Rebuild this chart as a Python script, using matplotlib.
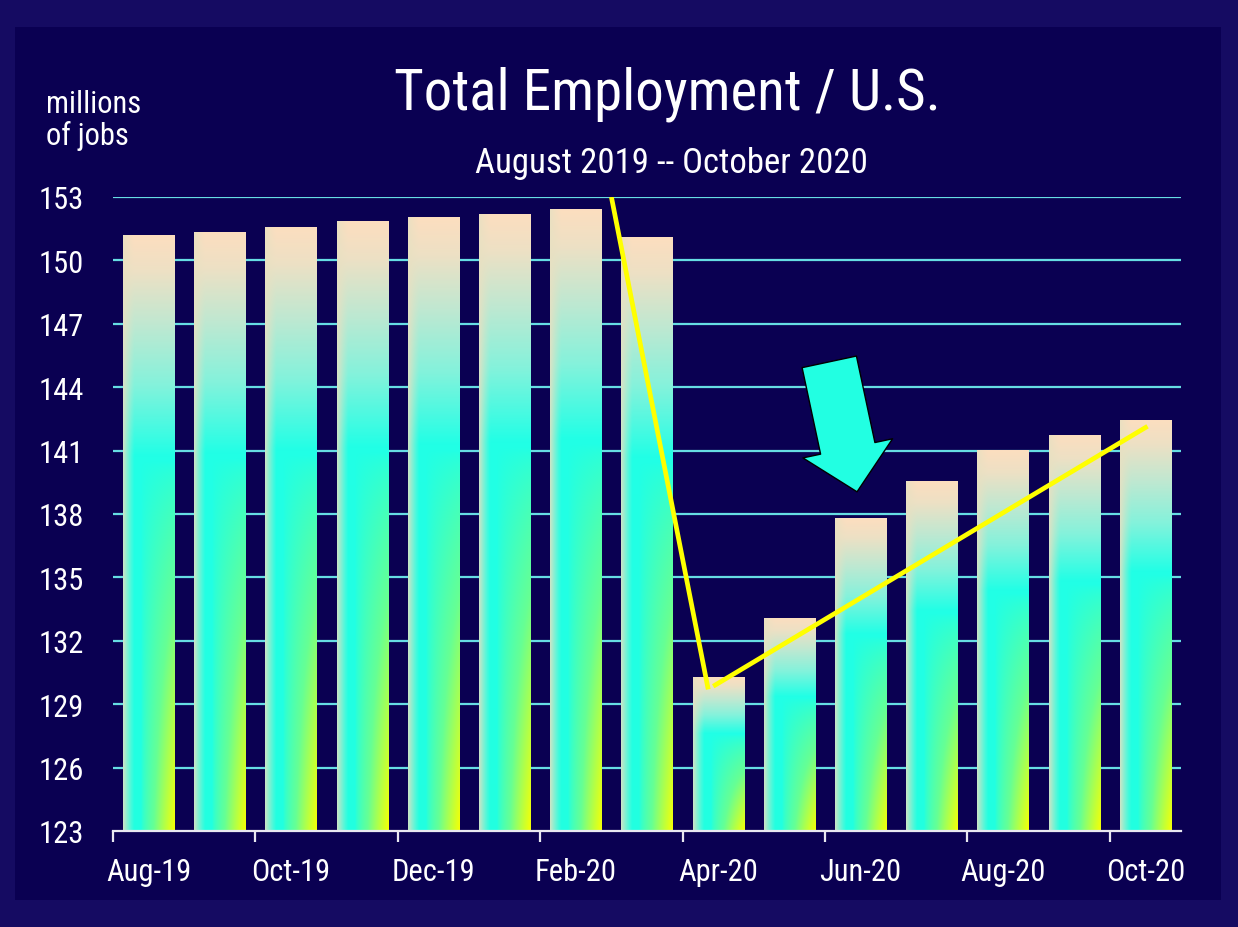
import numpy as np
import matplotlib
matplotlib.use("Agg")
import matplotlib.pyplot as plt
from matplotlib.patches import Rectangle

# ---------------- data ----------------
months = ["Aug-19", "Sep-19", "Oct-19", "Nov-19", "Dec-19", "Jan-20", "Feb-20",
          "Mar-20", "Apr-20", "May-20", "Jun-20", "Jul-20", "Aug-20", "Sep-20", "Oct-20"]
employment = [151.2, 151.35, 151.6, 151.85, 152.05, 152.2, 152.45,
              151.1, 130.3, 133.1, 137.8, 139.55, 141.05, 141.75, 142.45]
y_ticks = [123, 126, 129, 132, 135, 138, 141, 144, 147, 150, 153]
label_every = 2

# trend annotation lines (yellow)
crash_x = [6.5, 7.86]
crash_y = [153.0, 129.7]
recovery_x = [7.93, 14.03]
recovery_y = [129.85, 142.15]

# ---------------- style ----------------
OUTER = "#150b62"
INNER = "#0a0052"
GRID = "#66dde3"
WHITE = "#ffffff"
FONT = ["Roboto Condensed", "Archivo Narrow", "Liberation Sans", "DejaVu Sans"]
plt.rcParams["font.family"] = FONT

W, H = 1238, 928
fig = plt.figure(figsize=(W / 100, H / 100), dpi=100, facecolor=OUTER)
fig.patches.append(Rectangle((15 / W, 1 - 901 / H), (1221 - 15) / W, (901 - 28) / H,
                             transform=fig.transFigure, facecolor=INNER,
                             edgecolor="none", zorder=-10))

ax = fig.add_axes([113 / W, 1 - 832 / H, (1181 - 113) / W, (832 - 198) / H])
ax.set_facecolor("none")

n = len(months)
x = np.arange(n)
ymin, ymax = y_ticks[0], y_ticks[-1]


def bar_gradient(h=300, w=80):
    t = np.linspace(0, 1, h)[:, None]  # 0 = top, 1 = bottom
    s = np.linspace(0, 1, w)[None, :]  # 0 = left, 1 = right
    stops_t = [0.0, 0.06, 0.15, 0.25, 0.37, 1.0]
    cols = np.array([[0.99, 0.87, 0.75],
                     [0.93, 0.88, 0.77],
                     [0.75, 0.91, 0.82],
                     [0.52, 0.95, 0.86],
                     [0.13, 1.00, 0.90],
                     [0.13, 1.00, 0.88]])
    img = np.zeros((h, w, 3))
    for c in range(3):
        img[..., c] = np.interp(t, stops_t, cols[:, c]) * np.ones_like(s)
    # bottom-right: green -> yellow
    wy = np.clip((t - 0.38) / 0.62, 0, 1) * np.clip((s - 0.35) / 0.65, 0, 1)
    wy = wy ** 0.7
    green = np.array([0.40, 1.0, 0.58])
    yellow = np.array([0.96, 1.0, 0.02])
    g1 = np.clip(wy * 2, 0, 1)[..., None]
    g2 = np.clip(wy * 2 - 1, 0, 1)[..., None]
    img = img * (1 - g1) + green * g1
    img = img * (1 - g2) + yellow * g2
    # left edge: pale peach strip
    wl = (np.clip(1 - s / 0.22, 0, 1) ** 1.2 * 0.85)[..., None] * np.ones((h, 1, 1))
    edge = np.array([0.91, 0.88, 0.76])
    img = img * (1 - wl) + edge * wl
    return np.clip(img, 0, 1)


grad = bar_gradient()
bars = ax.bar(x, np.array(employment) - ymin, bottom=ymin, width=0.72,
              color="none", edgecolor="none", zorder=3)
for b in bars:
    x0, y0 = b.get_x(), b.get_y()
    im = ax.imshow(grad, extent=(x0, x0 + b.get_width(), y0, y0 + b.get_height()),
                   aspect="auto", interpolation="bilinear", zorder=3)
    im.set_clip_path(b)

# grid lines
for yt in y_ticks[1:]:
    ax.axhline(yt, color=GRID, lw=1.6, zorder=1)

# trend lines
ax.plot(crash_x, crash_y, color="#ffff00", lw=3.4, zorder=5, solid_capstyle="butt")
ax.plot(recovery_x, recovery_y, color="#ffff00", lw=3.4, zorder=5, solid_capstyle="butt")

# big cyan arrow
ax.annotate("", xy=(9.95, 139.05), xytext=(9.56, 145.2),
            arrowprops=dict(arrowstyle="simple,head_length=32,head_width=66,tail_width=40",
                            mutation_scale=1, fc="#22ffe2", ec="#000000", lw=1.0,
                            shrinkA=0, shrinkB=0),
            zorder=6)

ax.set_xlim(-0.5, n - 0.5)
ax.set_ylim(ymin, ymax)

# axes styling
for sp in ["left", "right", "top"]:
    ax.spines[sp].set_visible(False)
ax.spines["bottom"].set_color("#e8e8f0")
ax.spines["bottom"].set_linewidth(1.6)
ax.spines["bottom"].set_zorder(4)

ax.set_yticks(y_ticks)
ax.set_yticklabels([str(v) for v in y_ticks])
ax.tick_params(axis="y", length=0, pad=21, labelsize=22, labelcolor=WHITE)

ax.set_xticks(x[::label_every])
ax.set_xticklabels(months[::label_every])
ax.set_xticks(np.arange(-0.5, n - 0.5, label_every), minor=True)
ax.tick_params(axis="x", which="major", length=0, pad=19, labelsize=22, labelcolor=WHITE)
ax.tick_params(axis="x", which="minor", length=8, width=1.6, color="#e8e8f0")

# texts
fig.text(667 / W, 1 - 110 / H, "Total Employment / U.S.", ha="center", va="baseline",
         fontsize=41, color=WHITE)
fig.text(671 / W, 1 - 173 / H, "August 2019 -- October 2020", ha="center", va="baseline",
         fontsize=25, color=WHITE)
fig.text(46 / W, 1 - 113 / H, "millions", ha="left", va="baseline", fontsize=22, color=WHITE)
fig.text(46 / W, 1 - 145 / H, "of jobs", ha="left", va="baseline", fontsize=22, color=WHITE)

fig.savefig("out.png", dpi=100, facecolor=OUTER)
